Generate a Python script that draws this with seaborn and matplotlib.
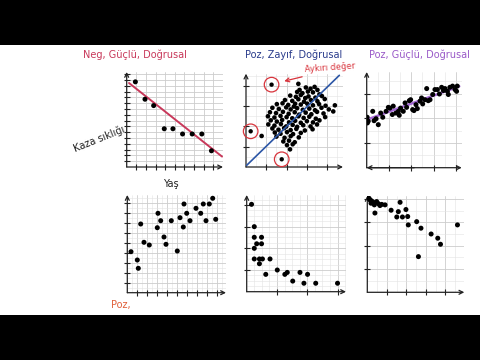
import matplotlib
matplotlib.use("Agg")
from matplotlib import pyplot as plt
import numpy as np
import pandas as pd
import seaborn as sns

# top left: Neg, Güçlü, Doğrusal
neg_x = [0.9, 1.9, 2.8, 3.9, 4.8, 5.8, 6.8, 7.8, 8.8]
neg_y = [14.7, 11.7, 10.6, 6.6, 6.6, 5.7, 5.7, 5.7, 2.8]
neg_trend_x = [0.24, 9.9]
neg_trend_y = [14.5, 1.8]

# top middle: Poz, Zayıf, Doğrusal
zayif_x = [2.95, 3.18, 3.38, 3.52, 3.05, 2.52, 2.78, 3.30, 3.62, 2.64,
           2.18, 2.46, 2.70, 3.08, 3.42, 3.74, 2.92,
           1.92, 2.28, 2.58, 2.86, 3.20, 3.52, 3.88, 2.42,
           1.52, 1.80, 2.08, 2.36, 2.70, 3.02, 3.30, 3.60, 3.92,
           1.30, 1.62, 1.98, 2.20, 2.52, 2.80, 3.12, 3.40, 3.72, 4.08,
           1.18, 1.48, 1.82, 2.10, 2.40, 2.62, 2.94, 3.22, 3.50, 3.82,
           1.08, 1.40, 1.70, 2.00, 2.28, 2.58, 2.84, 3.12, 3.44, 3.90,
           1.22, 1.52, 1.78, 2.12, 2.42, 2.70, 3.00, 3.30, 3.62,
           1.10, 1.40, 1.72, 1.98, 2.30, 2.52, 2.82, 3.18, 3.50,
           1.30, 1.60, 1.88, 2.20, 2.48, 2.90, 3.28,
           1.42, 1.70, 2.02, 2.32, 2.70,
           1.50, 1.90, 2.20, 2.60,
           1.84, 2.12, 2.40, 2.02, 2.30,
           2.58, 0.77, 2.17, 4.38, 4.30]
zayif_y = [3.92, 3.86, 3.95, 3.80, 3.72, 3.70, 3.64, 3.68, 3.58, 3.80,
           3.52, 3.46, 3.55, 3.48, 3.42, 3.50, 3.40,
           3.30, 3.26, 3.34, 3.22, 3.30, 3.24, 3.35, 3.12,
           3.10, 3.14, 3.06, 2.98, 3.08, 3.12, 3.04, 3.10, 3.02,
           2.92, 2.86, 2.94, 2.84, 2.90, 2.82, 2.88, 2.80, 2.92, 2.84,
           2.70, 2.66, 2.72, 2.62, 2.70, 2.58, 2.68, 2.60, 2.72, 2.64,
           2.50, 2.44, 2.52, 2.46, 2.40, 2.50, 2.42, 2.48, 2.38, 2.46,
           2.30, 2.24, 2.32, 2.20, 2.28, 2.18, 2.26, 2.20, 2.30,
           2.10, 2.04, 2.12, 2.00, 2.08, 1.98, 2.06, 2.00, 2.10,
           1.90, 1.84, 1.92, 1.82, 1.88, 1.80, 1.86,
           1.70, 1.64, 1.72, 1.62, 1.68,
           1.50, 1.44, 1.52, 1.46,
           1.26, 1.30, 1.22, 1.08, 1.12,
           4.10, 1.53, 0.87, 3.04, 2.74]
aykiri_x = [1.26, 0.23, 1.76]
aykiri_y = [4.06, 1.76, 0.38]
zayif_trend_x = [0.03, 4.6]
zayif_trend_y = [0.08, 4.52]

# top right: Poz, Güçlü, Doğrusal
guclu_x = [0.02, 0.07, 0.03, 0.27, 0.33, 0.42, 0.52, 0.63, 0.72, 0.87,
           0.97, 1.04, 1.15, 1.19, 1.31, 1.42, 1.46, 1.52, 1.64, 1.72,
           1.79, 1.91, 1.97, 2.06, 2.12, 2.21, 2.27, 2.39, 2.46, 2.51,
           2.61, 2.69, 2.76, 2.84, 2.96, 3.06, 3.17, 3.26, 3.36, 3.44,
           3.51, 3.62, 3.66, 3.73, 3.85, 3.96, 4.03, 4.06]
guclu_y = [2.04, 1.88, 1.81, 2.28, 1.90, 1.98, 1.74, 2.21, 2.04, 2.28,
           2.44, 2.41, 2.15, 2.49, 2.21, 2.28, 2.12, 2.41, 2.28, 2.62,
           2.44, 2.71, 2.75, 2.35, 2.31, 2.55, 2.39, 2.69, 2.82, 2.58,
           2.75, 3.20, 2.71, 2.75, 2.96, 3.16, 3.16, 2.98, 3.25, 3.12,
           3.20, 3.09, 2.96, 3.25, 3.30, 3.16, 3.09, 3.30]
guclu_trend_x = [0.0, 4.15]
guclu_trend_y = [1.94, 3.29]

# bottom row
poz_x = [0.37, 1.0, 1.1, 1.34, 1.67, 2.2, 3.0, 3.07, 3.34, 3.67, 3.87, 4.4, 5.0,
         5.27, 5.6, 5.67, 5.94, 6.27, 6.87, 7.34, 7.6, 7.87, 8.2, 8.54, 8.84]
poz_y = [4.1, 3.27, 2.44, 6.87, 5.04, 4.77, 6.5, 7.94, 7.2, 5.57, 4.84, 7.2, 4.17,
         7.5, 6.57, 8.87, 7.94, 7.2, 8.44, 7.94, 8.87, 7.2, 8.87, 9.44, 7.34]

azalan_x = [0.16, 0.25, 0.25, 0.25, 0.33, 0.49, 0.49, 0.25, 0.42, 0.52, 0.42,
            0.77, 0.63, 1.01, 1.26, 1.34, 1.52, 1.76, 1.89, 2.01, 2.28, 3.0]
azalan_y = [4.03, 3.0, 2.51, 2.0, 2.21, 2.51, 2.21, 1.51, 1.51, 1.51, 1.29,
            1.51, 0.80, 1.0, 0.80, 0.89, 0.49, 0.89, 0.39, 0.80, 0.39, 0.39]

dusen_x = [0.02, 0.09, 0.14, 0.22, 0.31, 0.19, 0.36, 0.39, 0.48, 0.57, 0.65, 0.74,
           0.91, 1.22, 1.51, 1.59, 1.68, 1.80, 1.98, 2.07, 2.10, 2.53, 2.75,
           3.27, 3.61, 3.75, 2.62, 4.62]
dusen_y = [4.06, 4.03, 3.96, 3.92, 3.86, 3.82, 3.75, 3.40, 3.89, 3.80, 3.72, 3.77,
           3.75, 3.52, 3.23, 3.46, 3.86, 3.23, 3.55, 3.25, 2.89, 3.03, 2.75,
           2.50, 2.32, 2.06, 1.53, 2.89]

sns.set_theme(style="white")
plt.rcParams['font.family'] = ['DejaVu Sans']

fig = plt.figure(figsize=(4.8, 3.6), dpi=100)
fig.patch.set_facecolor('black')

bg = fig.add_axes([0, 45 / 360, 1, 270 / 360], zorder=-1)
bg.set_facecolor('white')
bg.set_xticks([])
bg.set_yticks([])
for s in bg.spines.values():
    s.set_visible(False)


def box(l, t, r, b):
    return [l / 480, 1 - b / 360, (r - l) / 480, (b - t) / 360]


def panel(rect, xmax, ymax, minor=0.5, both=False):
    ax = fig.add_axes(rect)
    ax.set_facecolor('white')
    ax.set_xlim(0, xmax)
    ax.set_ylim(0, ymax)
    ax.set_xticks(np.arange(1, xmax, 1))
    ax.set_yticks(np.arange(1, ymax, 1))
    ax.set_xticks(np.arange(minor, xmax, minor), minor=True)
    ax.set_yticks(np.arange(minor, ymax, minor), minor=True)
    ax.set_xticklabels([])
    ax.set_yticklabels([])
    ax.grid(True, which='major', color='#cccccc', lw=0.6)
    ax.grid(True, which='minor', color='#e4e4e4', lw=0.4)
    ax.tick_params(which='major', direction='inout', length=4, width=0.8,
                   color='#222222', bottom=True, left=True)
    ax.tick_params(which='minor', length=0)
    for s in ax.spines.values():
        s.set_visible(False)
    arrow = dict(arrowstyle='->', color='#222222', lw=0.9, shrinkA=0, shrinkB=0,
                 mutation_scale=7)
    ax.annotate('', xy=(1, 0), xytext=(0, 0), xycoords='axes fraction',
                arrowprops=arrow, annotation_clip=False)
    ax.annotate('', xy=(0, 1), xytext=(0, 0), xycoords='axes fraction',
                arrowprops=arrow, annotation_clip=False)
    if both:
        ax.annotate('', xy=(0, 0), xytext=(0.5, 0), xycoords='axes fraction',
                    arrowprops=arrow, annotation_clip=False)
    return ax


dot = dict(color='black', edgecolor='none', legend=False, zorder=3)

# top left
ax1 = panel(box(126.7, 72, 223, 167), 10.0, 16.4, minor=1)
sns.lineplot(x=neg_trend_x, y=neg_trend_y, ax=ax1, color='#c8385a', lw=1.4, zorder=2)
sns.scatterplot(x=neg_x, y=neg_y, ax=ax1, s=13, **dot)

# top middle
ax2 = panel(box(246, 73.7, 343, 167), 4.78, 4.6)
sns.scatterplot(x=zayif_x, y=zayif_y, ax=ax2, s=11, **dot)
sns.scatterplot(x=aykiri_x, y=aykiri_y, ax=ax2, s=10, **dot)
sns.lineplot(x=zayif_trend_x, y=zayif_trend_y, ax=ax2, color='#2c56a6', lw=1.2, zorder=4)
sns.scatterplot(x=aykiri_x, y=aykiri_y, ax=ax2, s=110, facecolor='none',
                edgecolor='#d8343c', linewidth=0.9, legend=False, zorder=5, clip_on=False)
ax2.annotate('', xy=(1.75, 4.2), xytext=(2.9, 4.48), xycoords='data',
             arrowprops=dict(arrowstyle='->', color='#d8343c', lw=0.9, mutation_scale=7),
             annotation_clip=False)

# top right
ax3 = panel(box(366.7, 72, 461.7, 167.7), 4.26, 3.87, both=True)
sns.lineplot(x=guclu_trend_x, y=guclu_trend_y, ax=ax3, color='#a66ad6', lw=1.8, zorder=2)
sns.scatterplot(x=guclu_x, y=guclu_y, ax=ax3, s=13, **dot)

# bottom row
ax4 = panel(box(127.3, 195, 226, 292.7), 9.87, 9.77)
sns.scatterplot(x=poz_x, y=poz_y, ax=ax4, s=13, **dot)

ax5 = panel(box(246.7, 195, 346, 291.7), 3.28, 4.46, minor=0.25)
sns.scatterplot(x=azalan_x, y=azalan_y, ax=ax5, s=13, **dot)

ax6 = panel(box(367.3, 196, 464.3, 292.3), 4.97, 4.13)
sns.scatterplot(x=dusen_x, y=dusen_y, ax=ax6, s=13, **dot)

# texts
fig.text(135 / 480, 1 - 55 / 360, 'Neg, Güçlü, Doğrusal', color='#c8385a',
         fontsize=7, ha='center', va='center')
fig.text(294 / 480, 1 - 55 / 360, 'Poz, Zayıf, Doğrusal', color='#2a3c8c',
         fontsize=7, ha='center', va='center')
fig.text(419 / 480, 1 - 55 / 360, 'Poz, Güçlü, Doğrusal', color='#9a5ac8',
         fontsize=7, ha='center', va='center')
fig.text(330 / 480, 1 - 68 / 360, 'Aykırı değer', color='#d8343c',
         fontsize=6, ha='center', va='center', rotation=4)
fig.text(99 / 480, 1 - 139 / 360, 'Kaza sıklığı', color='#222222',
         fontsize=7, ha='center', va='center', rotation=22)
fig.text(171 / 480, 1 - 184 / 360, 'Yaş', color='#222222',
         fontsize=7, ha='center', va='center')
fig.text(121 / 480, 1 - 305 / 360, 'Poz,', color='#e0603a',
         fontsize=7, ha='center', va='center')

fig.savefig('out.png', dpi=100, facecolor=fig.get_facecolor())
